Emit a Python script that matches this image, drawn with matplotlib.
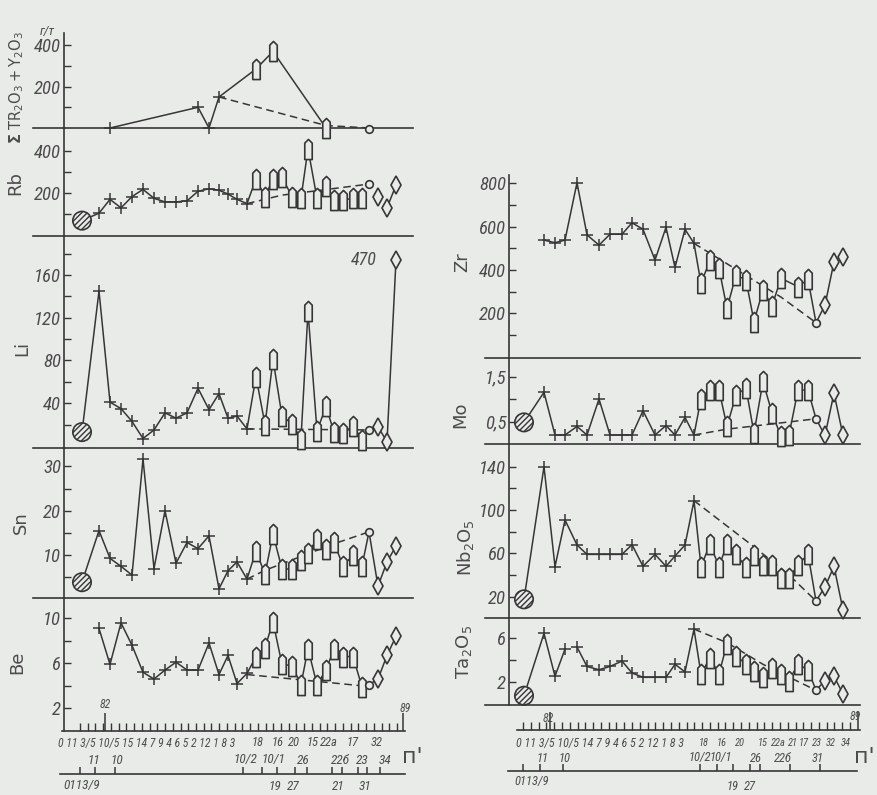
import numpy as np
import matplotlib
matplotlib.use('Agg')
import matplotlib.pyplot as plt
from matplotlib.path import Path
from matplotlib import font_manager as fm

W, H = 877, 795
BG = '#e8ebe8'
INK = '#363636'
TXT = '#4c4c4c'

names = {f.name for f in fm.fontManager.ttflist}
_cands = ['Liberation Sans Narrow', 'Roboto Condensed', 'Open Sans Condensed', 'Noto Sans Condensed',
          'DejaVu Sans Condensed', 'Arial Narrow', 'Liberation Sans', 'Roboto', 'DejaVu Sans']
NARROW = [f for f in _cands if f in names][:1] + ['DejaVu Sans']
plt.rcParams['hatch.linewidth'] = 1.0

# ---------------- data ----------------
# sample positions along profile (left column / right column)
pos_left = [18, 35, 46, 57, 68, 79, 90, 101, 112, 123, 134, 145, 155, 164, 173, 183,
            192, 201, 209, 218, 228, 237, 244, 253, 262, 270, 279, 289, 298,
            305, 314, 323, 332]
pos_right = [15, 35, 46, 56, 68, 78, 90, 101, 113, 123, 134, 146, 157, 166, 176, 185,
             192, 201, 210, 218, 227, 237, 245, 254, 263, 272, 280, 289, 299,
             307, 316, 325, 334]
# rock type of each sample: 0 granite, 1-15 '+', 16-28 'house', 29 circle, 30-32 diamond
rock_kind = ['granite'] + ['plus'] * 15 + ['house'] * 13 + ['circle'] + ['diamond'] * 3

nan = np.nan
tr_idx = [2, 10, 11, 12, 16, 18, 24, 29]
tr_val = [0, 100, 0, 150, 285, 370, 0, -3]

rb = [70, 105, 170, 130, 183, 217, 175, 158, 158, 163, 208, 220, 213, 195, 170, 150,
      267, 183, 267, 275, 183, 175, 408, 175, 233, 167, 167, 175, 175,
      242, 183, 130, 237]
li = [13, 145, 41, 35, 23, 7, 15, 31, 26, 31, 54, 34, 49, 26, 28, 16,
      65, 20, 81, 28, 21, 7, 126, 14, 37, 13, 12, 19, 6,
      15, 18, 4, 470]
sn = [3.8, 15.5, 9.2, 7.4, 5.4, 31.7, 6.9, 20, 8.1, 12.8, 11.4, 14.3, 2.3, 6.4, 8.4, 4.5,
      10.9, 5.6, 14.7, 6.8, 6.8, 8.8, 10.5, 13.5, 11.3, 12.8, 7.5, 9.9, 7.5,
      15.2, 2.9, 8.4, 12]
be = [nan, 9.1, 5.9, 9.6, 7.6, 5.2, 4.6, 5.4, 6.1, 5.4, 5.4, 7.8, 5.0, 6.7, 4.2, 5.1,
      6.6, 7.4, 9.7, 5.9, 5.8, 4.1, 7.3, 4.1, 5.4, 7.3, 6.6, 6.6, 3.9,
      4.1, 4.6, 6.7, 8.4]
zr = [nan, 538, 526, 538, 803, 562, 515, 565, 565, 618, 588, 446, 597, 412, 588, 523,
      338, 446, 408, 223, 377, 354, 162, 308, 234, 362, nan, 323, 357,
      157, 238, 438, 462]
mo = [0.48, 1.15, 0.2, 0.2, 0.39, 0.2, 1.0, 0.2, 0.2, 0.2, 0.74, 0.2, 0.41, 0.2, 0.59, 0.2,
      1.01, 1.2, 1.2, 0.39, 1.09, 1.24, 0.24, 1.39, 0.69, 0.17, 0.2, 1.2, 1.2,
      0.56, 0.19, 1.13, 0.19]
nb = [17.5, 140, 47.7, 90.8, 67.7, 59, 59, 59, 59, 68, 48, 59, 48, 57.5, 67.7, 108.6,
      47.7, 68.6, 47.7, 68.6, 59.4, 47, 58.5, 49, 49, 37, 37.5, 49, 59.4,
      16, 29, 48, 7.7]
ta = [0.7, 6.45, 2.5, 5.0, 5.2, 3.4, 3.1, 3.4, 3.9, 2.8, 2.4, 2.4, 2.4, 3.6, 2.9, 6.85,
      2.7, 4.2, 2.7, 5.5, 4.4, 3.6, 3.0, 2.4, 3.3, 2.7, 2.1, 3.6, 3.1,
      1.2, 2.1, 2.5, 0.85]

# dashed trend lines: (sample index, value)
tr_dash = [(12, 150), (24, 12), (29, 0)]
rb_dash = [(15, 150), (19, 190), (29, 242)]
li_dash = [(15, 16), (29, 15)]
sn_dash = [(15, 4.5), (17, 6.5), (25, 12.5), (29, 15.2)]
be_dash = [(15, 5.0), (28, 4.0)]
zr_dash = [(15, 523), (25, 275), (29, 157)]
mo_dash = [(15, 0.2), (19, 0.33), (29, 0.56)]
nb_dash = [(15, 108.6), (22, 66), (26, 40), (29, 16)]
ta_dash = [(15, 6.85), (19, 5.6), (23, 3.6), (29, 1.2)]

LI_CAP = 174  # off-scale value shown at top of Li panel

# x-axis sample-number labels (text, pixel x)
left_row1_head = '0 11 3/5 10/5 15 14 7 9 4 6 5 2 12 1 8 3'
left_row1 = [('18', 258), ('16', 278), ('20', 294), ('15', 313), ('22a', 329), ('17', 353), ('32', 377)]
left_row2 = [('11', 94), ('10', 117), ('10/2', 245), ('10/1', 273), ('26', 303), ('22б', 340),
             ('23', 362), ('34', 385)]
left_row3 = [('0113/9', 82), ('19', 275), ('27', 293), ('21', 338), ('31', 365)]
right_row1_head = '0 11 3/5 10/5 14 7 9 4 6 5 2 12 1 8 3'
right_row1 = [('18', 704), ('16', 722), ('20', 740), ('15', 763), ('22a', 778), ('21', 793),
              ('17', 804), ('23', 817), ('32', 831), ('34', 846)]
right_row2 = [('11', 543), ('10', 565), ('10/2', 700), ('10/1', 721), ('26', 756), ('22б', 783),
              ('31', 818)]

# ---------------- figure ----------------
fig = plt.figure(figsize=(W / 100, H / 100), dpi=100, facecolor=BG)

house = Path([(-0.5, -1.35), (0.5, -1.35), (0.5, 0.85), (0, 1.35), (-0.5, 0.85), (-0.5, -1.35)],
             [Path.MOVETO, Path.LINETO, Path.LINETO, Path.LINETO, Path.LINETO, Path.CLOSEPOLY])

COLS = {'L': (33, 413, 64), 'R': (485, 860, 509)}


def panel(col, top, bottom, py0, s, ticks, labels):
    x0, x1, ax0 = COLS[col]
    ax = fig.add_axes([x0 / W, 1 - bottom / H, (x1 - x0) / W, (bottom - top) / H])
    ax.set_xlim(x0 - ax0, x1 - ax0)
    ax.set_ylim((py0 - bottom) / s, (py0 - top) / s)
    ax.patch.set_alpha(0)
    for sp in ['top', 'right']:
        ax.spines[sp].set_visible(False)
    ax.spines['left'].set_position(('data', 0))
    for sp in ['left', 'bottom']:
        ax.spines[sp].set_color(INK)
        ax.spines[sp].set_linewidth(1.2)
    ax.set_xticks([])
    ax.set_yticks(ticks)
    ax.set_yticklabels(labels, fontsize=13.5, fontstyle='italic', family=NARROW, color=TXT)
    ax.tick_params(axis='y', direction='in', length=5, width=1, color=INK, pad=2)
    return ax


def draw(ax, pos, idx, vals, breaks=(), cap=None, dash=None):
    x = np.asarray(pos, float)[idx]
    y = np.asarray(vals, float)
    if cap is not None:
        y = np.minimum(y, cap)
    kinds = np.array([rock_kind[i] for i in idx])
    cuts = [b + 1 for b in breaks]
    for seg in np.split(np.arange(len(x)), cuts):
        m = seg[~np.isnan(y[seg])]
        if len(m) > 1:
            ax.plot(x[m], y[m], color=INK, lw=1.1, zorder=2, clip_on=False)
    if dash:
        dx = [pos[i] for i, _ in dash]
        dy = [v for _, v in dash]
        ax.plot(dx, dy, color=INK, lw=1.1, ls=(0, (5, 3)), zorder=2, clip_on=False)

    def sel(k):
        m = (kinds == k) & ~np.isnan(y)
        return x[m], y[m]
    styles = {
        'plus': dict(marker='+', ms=8, mew=1.1, color=INK),
        'house': dict(marker=house, ms=14.5, mfc=BG, mec=INK, mew=1.2),
        'circle': dict(marker='o', ms=5.5, mfc=BG, mec=INK, mew=1.2),
        'diamond': dict(marker='d', ms=9, mfc=BG, mec=INK, mew=1.2),
    }
    for k, st in styles.items():
        xs, ys = sel(k)
        if len(xs):
            ax.plot(xs, ys, ls='none', zorder=4 if k != 'plus' else 3, clip_on=False, **st)
    xs, ys = sel('granite')
    if len(xs):
        ax.scatter(xs, ys, s=175, facecolor=BG, edgecolor=INK, hatch='//////', linewidth=1.2,
                   zorder=4, clip_on=False)


all_idx = list(range(len(pos_left)))

# ---- left column ----
ax = panel('L', 33, 128, 128, 0.207, [100, 200, 300, 400], ['', '200', '', '400'])
draw(ax, pos_left, tr_idx[:-1], tr_val[:-1], dash=tr_dash)
draw(ax, pos_left, tr_idx[-1:], tr_val[-1:])

ax = panel('L', 128, 236, 235.5, 0.2125, [100, 200, 300, 400], ['', '200', '', '400'])
draw(ax, pos_left, all_idx, rb, breaks=(28, 29, 30), dash=rb_dash)

ax = panel('L', 236, 448, 446, 1.069, list(range(20, 181, 20)),
           ['', '40', '', '80', '', '120', '', '160', ''])
draw(ax, pos_left, all_idx, li, cap=LI_CAP, dash=li_dash)
ax.text(pos_left[-1] - 19, LI_CAP, '470', fontsize=13, fontstyle='italic', family=NARROW,
        color=TXT, ha='right', va='center')

ax = panel('L', 448, 598, 599, 4.417, [5, 10, 15, 20, 25, 30], ['', '10', '', '20', '', '30'])
draw(ax, pos_left, all_idx, sn, dash=sn_dash)

ax_be = panel('L', 598, 731, 730.8, 11.25, [2, 4, 6, 8, 10], ['2', '', '6', '', '10'])
draw(ax_be, pos_left, all_idx, be, dash=be_dash)
ax_be.spines['bottom'].set_bounds(-2, 341)
ax_be.set_xticks([41, 339])
ax_be.set_xticks(np.linspace(16, 333, 42), minor=True)
ax_be.tick_params(axis='x', which='major', direction='in', length=13, width=1.1, color=INK,
                  labelbottom=False)
ax_be.tick_params(axis='x', which='minor', direction='in', length=6, width=1, color=INK)

# ---- right column ----
ax = panel('R', 175, 358, 356.7, 0.2167, list(range(100, 801, 100)),
           ['', '200', '', '400', '', '600', '', '800'])
draw(ax, pos_right, all_idx, zr, breaks=(31,), dash=zr_dash)

ax = panel('R', 358, 444, 444, 45.0, [0.5, 1.0, 1.5], ['0,5', '', '1,5'])
draw(ax, pos_right, all_idx, mo, dash=mo_dash)

ax = panel('R', 444, 618, 618.3, 1.0833, list(range(20, 141, 20)),
           ['20', '', '60', '', '100', '', '140'])
draw(ax, pos_right, all_idx, nb, dash=nb_dash)

ax = panel('R', 618, 705, 703.3, 10.83, [2, 4, 6], ['2', '', '6'])
draw(ax, pos_right, all_idx, ta, breaks=(3,), dash=ta_dash)


# ---- x axes (sample number scales) ----
def xaxis(col, py, bounds, major, minor, majlen=13):
    x0, x1, ax0 = COLS[col]
    a = fig.add_axes([x0 / W, 1 - py / H, (x1 - x0) / W, 0.0001])
    a.set_xlim(x0 - ax0, x1 - ax0)
    a.patch.set_alpha(0)
    for sp in ['top', 'right', 'left']:
        a.spines[sp].set_visible(False)
    a.spines['bottom'].set_bounds(*bounds)
    a.spines['bottom'].set_color(INK)
    a.spines['bottom'].set_linewidth(1.2)
    a.set_yticks([])
    a.set_xticks(major)
    if minor is not None:
        a.set_xticks(minor, minor=True)
    a.tick_params(axis='x', which='major', direction='in', length=majlen, width=1.1, color=INK,
                  labelbottom=False)
    a.tick_params(axis='x', which='minor', direction='in', length=6, width=1, color=INK)
    return a


xaxis('R', 730, (8, 351), [41, 349], np.linspace(14, 341, 43))
xaxis('L', 774, (-4, 341), [16, 31, 51, 179, 198, 213, 231, 243, 268, 278, 294, 303, 316], None, majlen=5)
xaxis('R', 771, (-1, 348), [14, 31, 54, 191, 208, 224, 241, 251, 281, 311], None, majlen=5)


def t(px, py, s, size=9.5, ha='center', style='italic', fam=None, **kw):
    return fig.text(px / W, 1 - py / H, s, fontsize=size, ha=ha, va='center', fontstyle=style,
                    family=fam or NARROW, color=TXT, **kw)


fit = []  # (text, target width px)
# left axis labels
fit.append((t(58, 743, left_row1_head, ha='left'), 180))
for s, px in left_row1:
    t(px, 743, s, size=9)
for s, px in left_row2:
    t(px, 760, s)
for s, px in left_row3:
    t(px, 786, s)
t(105, 705, '82', size=8.5)
t(405, 709, '89', size=8.5)
t(412, 757, "п'", size=16, style='normal', fam=['DejaVu Sans'])

# right axis labels
fit.append((t(516, 743, right_row1_head, ha='left'), 168))
for s, px in right_row1:
    t(px, 743, s, size=7.5)
for s, px in right_row2:
    t(px, 758, s, size=9)
t(532, 782, '0113/9', size=9)
t(733, 787, '19', size=9)
t(750, 787, '27', size=9)
t(548, 718, '82', size=8.5)
t(855, 717, '89', size=8.5)
t(864, 757, "п'", size=16, style='normal', fam=['DejaVu Sans'])


# element labels
def ylab(px, py, s, size=13):
    return fig.text(px / W, 1 - py / H, s, fontsize=size, rotation=90, ha='center', va='center',
                    color=TXT, family=['DejaVu Sans'])


ylab(17, 88, r'$\mathbf{\Sigma}\ \mathrm{TR_2O_3+Y_2O_3}$', size=10.5)
t(47, 32, 'г/т', size=9.5)
ylab(15, 183, 'Rb')
ylab(22, 348, 'Li')
ylab(21, 523, 'Sn')
ylab(17, 662, 'Be')
ylab(462, 262, 'Zr')
ylab(460, 415, 'Mo')
ylab(466, 548, r'$\mathrm{Nb_2O_5}$')
ylab(464, 652, r'$\mathrm{Ta_2O_5}$')

# shrink the long crowded label strings to the width they take in the reference
fig.canvas.draw()
r = fig.canvas.get_renderer()
for txt, target in fit:
    wpx = txt.get_window_extent(r).width
    txt.set_fontsize(txt.get_fontsize() * target / wpx)

fig.savefig('out.png', dpi=100, facecolor=BG)
